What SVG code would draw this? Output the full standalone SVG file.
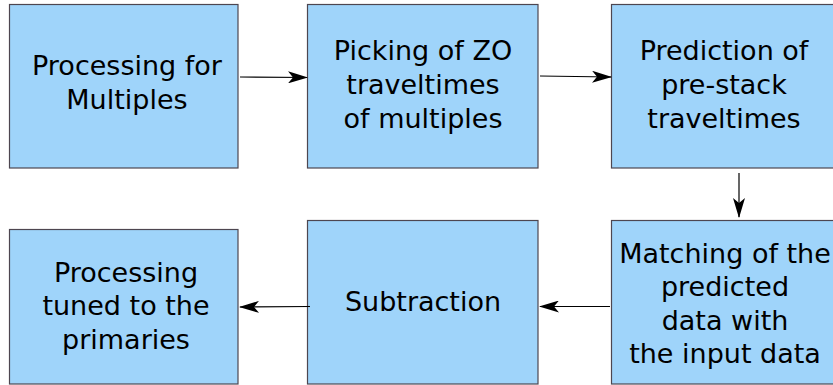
<svg xmlns="http://www.w3.org/2000/svg" width="833" height="385" viewBox="0 0 833 385">
<defs>
<style>
.box{fill:#9fd4fa;stroke:#4d4650;stroke-width:1.2}
.t{font-family:"DejaVu Sans",sans-serif;font-size:27px;fill:#000;text-anchor:middle}
.c{stroke:#000;stroke-width:1.2;fill:none;marker-end:url(#ah)}
</style>
<marker id="ah" viewBox="0 0 20 12" refX="19" refY="6" markerWidth="20" markerHeight="12" markerUnits="userSpaceOnUse" orient="auto">
<path d="M0,0 L20,6 L0,12 L5,6 Z" fill="#000"/>
</marker>
</defs>
<rect width="833" height="385" fill="#fff"/>
<g id="n1"><rect class="box" x="9.5" y="4.5" width="228.5" height="163.5"/>
<text class="t" x="127" y="75">Processing for</text><text class="t" x="127" y="109">Multiples</text></g>
<g id="n2"><rect class="box" x="307.5" y="4.5" width="230.5" height="163.5"/>
<text class="t" x="423" y="60">Picking of ZO</text><text class="t" x="423" y="94">traveltimes</text><text class="t" x="423" y="128">of multiples</text></g>
<g id="n3"><rect class="box" x="611.5" y="4.5" width="230" height="163.5"/>
<text class="t" x="724" y="60">Prediction of</text><text class="t" x="724" y="94">pre-stack</text><text class="t" x="724" y="128">traveltimes</text></g>
<g id="n4"><rect class="box" x="611.5" y="220.5" width="230" height="163.5"/>
<text class="t" x="725" y="263">Matching of the</text><text class="t" x="725" y="296">predicted</text><text class="t" x="725" y="330">data with</text><text class="t" x="725" y="363">the input data</text></g>
<g id="n5"><rect class="box" x="307.5" y="220.5" width="230.5" height="163.5"/>
<text class="t" x="423" y="311">Subtraction</text></g>
<g id="n6"><rect class="box" x="9.5" y="229.5" width="228.5" height="154.5"/>
<text class="t" x="126" y="282">Processing</text><text class="t" x="126" y="315">tuned to the</text><text class="t" x="126" y="349">primaries</text></g>
<g id="connectors">
<path class="c" d="M240,77 L307,77.5"/>
<path class="c" d="M540,76 L611,77"/>
<path class="c" d="M739,173 L739,217"/>
<path class="c" d="M610,306.5 L540,306.5"/>
<path class="c" d="M310,306.5 L240,307"/>
</g>
</svg>
